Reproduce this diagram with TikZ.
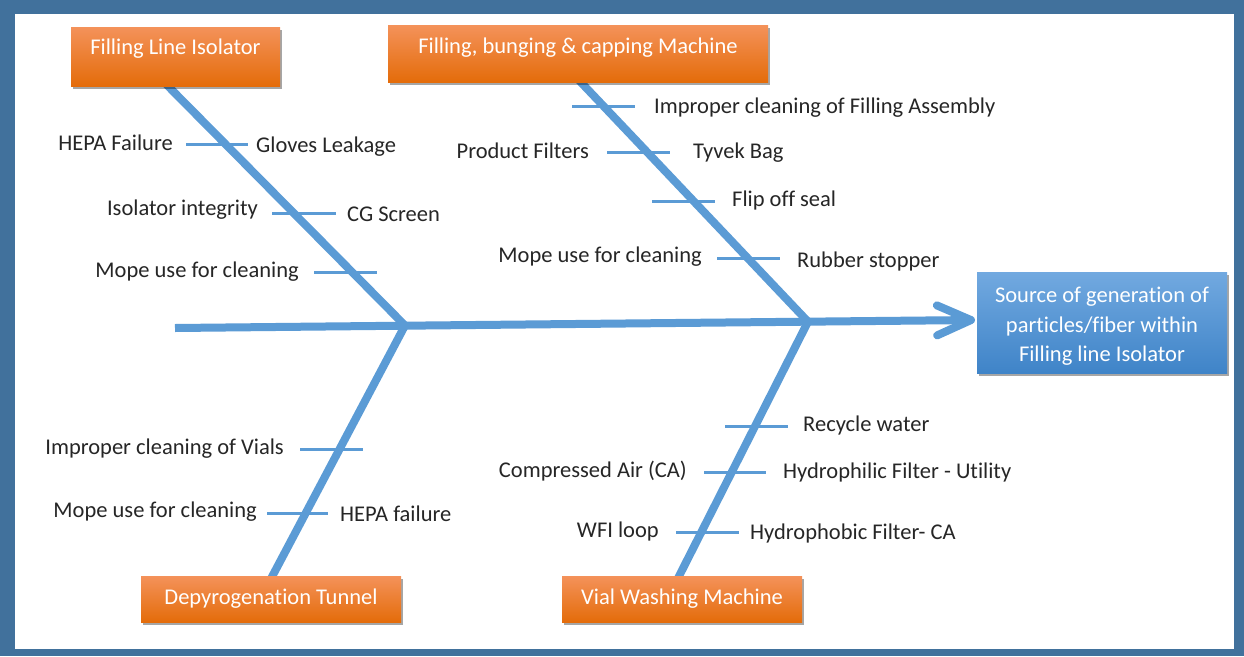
\documentclass[tikz,border=0pt]{standalone}
\usepackage{fontspec}
\setmainfont{Carlito}[Ligatures={NoCommon}]
\usetikzlibrary{arrows.meta,shadows}
\definecolor{frameblue}{HTML}{41719C}
\definecolor{bone}{HTML}{5B9BD5}
\definecolor{orTop}{HTML}{F4925A}
\definecolor{orBot}{HTML}{E46C0A}
\definecolor{blTop}{HTML}{72A9E0}
\definecolor{blBot}{HTML}{3F84C8}
\definecolor{lbltext}{HTML}{262626}
\tikzset{
  lbl/.style={font=\fontsize{22.5}{27}\selectfont, text=lbltext, inner sep=0pt, yshift=-4pt},
  bonestyle/.style={draw=bone, line width=8pt},
  tickstyle/.style={draw=bone, line width=3pt},
  causebox/.style={top color=orTop, bottom color=orBot, text=white,
    font=\fontsize{22.5}{27}\selectfont, inner sep=0pt, text height=15pt,
    drop shadow={shadow xshift=2pt, shadow yshift=-3pt, opacity=0.35, fill=black}},
  effectbox/.style={top color=blTop, bottom color=blBot, text=white,
    font=\fontsize{22.5}{29.5}\selectfont, inner sep=0pt, align=center,
    drop shadow={shadow xshift=2pt, shadow yshift=-3pt, opacity=0.35, fill=black}}
}
\begin{document}
\begin{tikzpicture}[x=1pt,y=-1pt]
% frame
\fill[frameblue] (0,0) rectangle (1244,656);
\fill[white] (15,14) rectangle (1234,649);
\useasboundingbox (0,0) rectangle (1244,656);

% key coordinates
\coordinate (S) at (175,328);
\coordinate (T) at (975,320);
\coordinate (J1) at (405,325.5);
\coordinate (J2) at (808,321.7);
\coordinate (a1) at (162,80);
\coordinate (b1) at (574,75);
\coordinate (c1) at (265,590);
\coordinate (d1) at (672,590);

% bones
\draw[bonestyle] (a1) -- (J1);
\draw[bonestyle] (b1) -- (J2);
\draw[bonestyle] (J1) -- (c1);
\draw[bonestyle] (J2) -- (d1);
\draw[bonestyle, line cap=butt, -{Straight Barb[length=34pt,width=30pt,round]}] (S) -- (T);

% boxes
\node[causebox, text depth=20pt, minimum width=209pt, minimum height=59pt] (A) at (175.5,56.5) {Filling Line Isolator};
\node[causebox, text depth=16pt, minimum width=380pt, minimum height=57pt] (B) at (578,53.5) {Filling, bunging \& capping Machine};
\node[causebox, text depth=5pt, minimum width=260pt, minimum height=46pt] (C) at (271,599) {Depyrogenation Tunnel};
\node[causebox, text depth=5pt, minimum width=240pt, minimum height=46pt] (D) at (682,599) {Vial Washing Machine};
\node[effectbox, minimum width=250pt, minimum height=101pt] (E) at (1102,322.5) {\rule{0pt}{23pt}Source of generation of\\particles/fiber within\\Filling line Isolator};

% ticks: upper bone 1
\coordinate (t1a) at (186,144); \coordinate (t1b) at (248,144);
\coordinate (t2a) at (272,213); \coordinate (t2b) at (336,213);
\coordinate (t3a) at (314,272); \coordinate (t3b) at (377,272);
\draw[tickstyle] (t1a) -- (t1b);
\draw[tickstyle] (t2a) -- (t2b);
\draw[tickstyle] (t3a) -- (t3b);
\node[lbl, anchor=mid east] (l1) at (173,144) {HEPA Failure};
\node[lbl, anchor=mid west] (l2) at (256,146) {Gloves Leakage};
\node[lbl, anchor=mid east] (l3) at (258,209) {Isolator integrity};
\node[lbl, anchor=mid west] (l4) at (347,215) {CG Screen};
\node[lbl, anchor=mid east] (l5) at (299,271) {Mope use for cleaning};

% ticks: upper bone 2
\coordinate (u1a) at (572,106); \coordinate (u1b) at (635,106);
\coordinate (u2a) at (607,152); \coordinate (u2b) at (670,152);
\coordinate (u3a) at (652,201); \coordinate (u3b) at (715,201);
\coordinate (u4a) at (717,258); \coordinate (u4b) at (780,258);
\draw[tickstyle] (u1a) -- (u1b);
\draw[tickstyle] (u2a) -- (u2b);
\draw[tickstyle] (u3a) -- (u3b);
\draw[tickstyle] (u4a) -- (u4b);
\node[lbl, anchor=mid west] (m1) at (654,107) {Improper cleaning of Filling Assembly};
\node[lbl, anchor=mid east] (m2) at (589,152) {Product Filters};
\node[lbl, anchor=mid west] (m3) at (693,152) {Tyvek Bag};
\node[lbl, anchor=mid west] (m4) at (732,200) {Flip off seal};
\node[lbl, anchor=mid east] (m5) at (702,256) {Mope use for cleaning};
\node[lbl, anchor=mid west] (m6) at (797,261) {Rubber stopper};

% ticks: lower bone 1
\coordinate (v1a) at (300,449); \coordinate (v1b) at (363,449);
\coordinate (v2a) at (267,513); \coordinate (v2b) at (328,513);
\draw[tickstyle] (v1a) -- (v1b);
\draw[tickstyle] (v2a) -- (v2b);
\node[lbl, anchor=mid east] (n1) at (284,448) {Improper cleaning of Vials};
\node[lbl, anchor=mid east] (n2) at (257,511) {Mope use for cleaning};
\node[lbl, anchor=mid west] (n3) at (340,515) {HEPA failure};

% ticks: lower bone 2
\coordinate (w1a) at (725,426); \coordinate (w1b) at (788,426);
\coordinate (w2a) at (704,472); \coordinate (w2b) at (766,472);
\coordinate (w3a) at (676,532); \coordinate (w3b) at (739,532);
\draw[tickstyle] (w1a) -- (w1b);
\draw[tickstyle] (w2a) -- (w2b);
\draw[tickstyle] (w3a) -- (w3b);
\node[lbl, anchor=mid west] (o1) at (803,425) {Recycle water};
\node[lbl, anchor=mid east] (o2) at (687,471) {Compressed Air (CA)};
\node[lbl, anchor=mid west] (o3) at (783,472) {Hydrophilic Filter - Utility};
\node[lbl, anchor=mid east] (o4) at (659,531) {WFI loop};
\node[lbl, anchor=mid west] (o5) at (750,533) {Hydrophobic Filter- CA};
\end{tikzpicture}
\end{document}
